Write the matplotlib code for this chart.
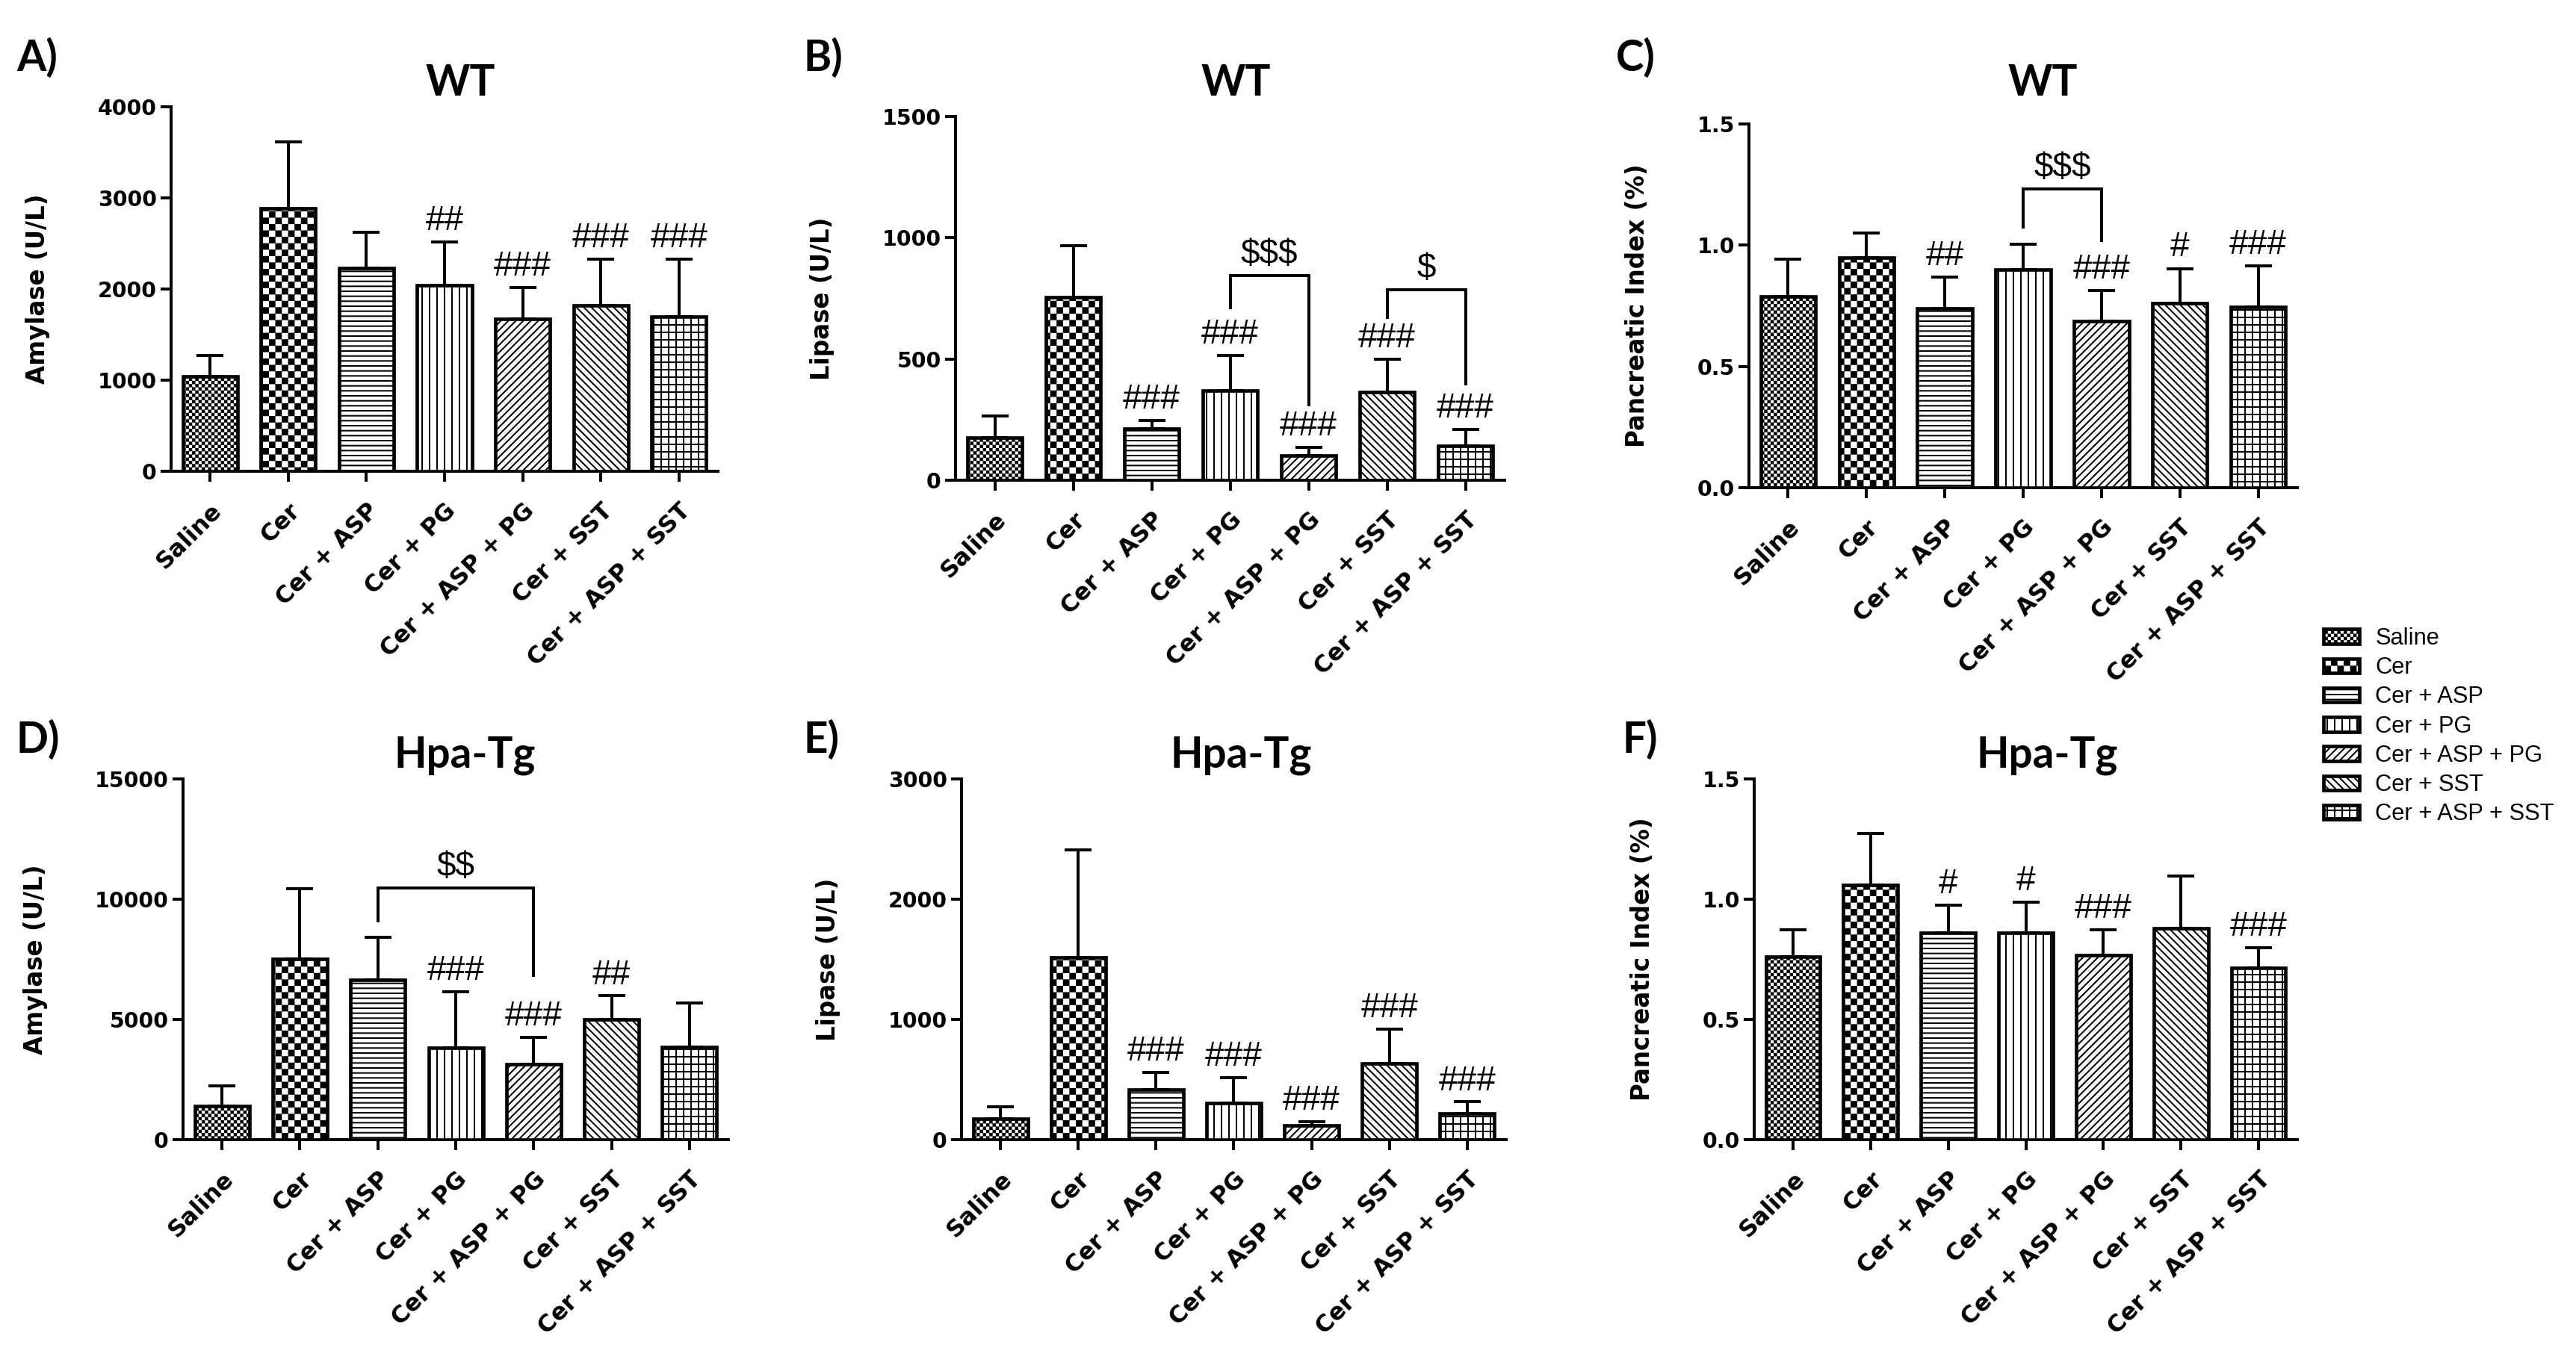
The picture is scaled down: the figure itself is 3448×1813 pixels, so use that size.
import warnings
warnings.filterwarnings('ignore')
import numpy as np
import matplotlib
matplotlib.use('Agg')
import matplotlib.pyplot as plt
from matplotlib import hatch as mhatch
from matplotlib.path import Path
from matplotlib.patches import Patch

# ---------------- data ----------------
groups = ['Saline', 'Cer', 'Cer + ASP', 'Cer + PG', 'Cer + ASP + PG', 'Cer + SST', 'Cer + ASP + SST']

amylase_wt_mean = [1045, 2885, 2230, 2040, 1675, 1820, 1695]
amylase_wt_err = [225, 730, 395, 475, 340, 510, 635]
lipase_wt_mean = [177, 754, 213, 369, 101, 363, 142]
lipase_wt_err = [89, 212, 32, 145, 34, 137, 67]
pi_wt_mean = [0.789, 0.949, 0.738, 0.899, 0.688, 0.761, 0.745]
pi_wt_err = [0.152, 0.102, 0.131, 0.105, 0.124, 0.143, 0.170]

amylase_tg_mean = [1395, 7520, 6650, 3820, 3135, 4985, 3860]
amylase_tg_err = [835, 2930, 1775, 2320, 1125, 995, 1810]
lipase_tg_mean = [173, 1516, 415, 307, 116, 632, 217]
lipase_tg_err = [98, 896, 145, 209, 36, 289, 97]
pi_tg_mean = [0.762, 1.060, 0.861, 0.861, 0.767, 0.879, 0.715]
pi_tg_err = [0.110, 0.213, 0.114, 0.126, 0.105, 0.217, 0.083]

amylase_wt_sig = ['', '', '', '##', '###', '###', '###']
lipase_wt_sig = ['', '', '###', '###', '###', '###', '###']
pi_wt_sig = ['', '', '##', '', '###', '#', '###']
amylase_tg_sig = ['', '', '', '###', '###', '##', '']
lipase_tg_sig = ['', '', '###', '###', '###', '###', '###']
pi_tg_sig = ['', '', '#', '#', '###', '', '###']

# brackets: (group i, group j, bracket top, left leg end, right leg end, label)
amylase_wt_brackets = []
lipase_wt_brackets = [(3, 4, 845, 711, 310, '$$$'), (5, 6, 785, 672, 398, '$')]
pi_wt_brackets = [(3, 4, 1.231, 1.076, 1.019, '$$$')]
amylase_tg_brackets = [(2, 4, 10480, 9090, 6830, '$$')]
lipase_tg_brackets = []
pi_tg_brackets = []

y_ticks_A = [0, 1000, 2000, 3000, 4000]
y_ticks_B = [0, 500, 1000, 1500]
y_ticks_C = [0.0, 0.5, 1.0, 1.5]
y_ticks_D = [0, 5000, 10000, 15000]
y_ticks_E = [0, 1000, 2000, 3000]
y_ticks_F = [0.0, 0.5, 1.0, 1.5]

# ---------------- custom checkerboard hatch ----------------
class CheckerHatch(mhatch.HatchPatternBase):
    def __init__(self, hatch, density):
        n = hatch.count('c') * 7
        if n % 2:
            n += 1
        self.n = n
        self.num_vertices = (n * n // 2) * 5 if n else 0

    def set_vertices_and_codes(self, vertices, codes):
        n = self.n
        s = 1.0 / n
        inset = 0.0075
        k = 0
        for i in range(n):
            for j in range(n):
                if (i + j) % 2 == 0:
                    x0, y0 = i * s + inset, j * s + inset
                    x1, y1 = (i + 1) * s - inset, (j + 1) * s - inset
                    vertices[k:k + 5] = [(x0, y0), (x1, y0), (x1, y1), (x0, y1), (x0, y0)]
                    codes[k:k + 5] = [Path.MOVETO, Path.LINETO, Path.LINETO,
                                      Path.LINETO, Path.CLOSEPOLY]
                    k += 5

mhatch._hatch_types.append(CheckerHatch)

hatches = ['cccc', 'cc', '---', '||', '////', '\\\\\\\\', '++']

plt.rcParams['hatch.linewidth'] = 1.2
plt.rcParams['text.parse_math'] = False
DPI = 120
W, H = 3448, 1813
fig = plt.figure(figsize=(W / DPI, H / DPI), dpi=DPI, facecolor='white')

TICKFONT = 'DejaVu Sans'
EDGE_LW = 2.8
AX_LW = 2.4

def px2fx(x):
    return x / W

def px2fy(y):
    return 1 - y / H

def panel(rect_px, means, errs, sigs, brackets, yticks, ylabel, fmt):
    left, right, top, bottom = rect_px
    ax = fig.add_axes([px2fx(left), px2fy(bottom), (right - left) / W, (bottom - top) / H])
    x = np.arange(len(groups))
    ymax = yticks[-1]
    ax.errorbar(x, means, yerr=[np.zeros(len(means)), errs], fmt='none', ecolor='black',
                elinewidth=AX_LW, capsize=11, capthick=AX_LW, zorder=2, clip_on=False)
    for xi, m, h in zip(x, means, hatches):
        ax.bar(xi, m, width=0.7, facecolor='white', edgecolor='black', linewidth=EDGE_LW,
               hatch=h, zorder=3)
    off = 0.033 * ymax
    for xi, m, e, s in zip(x, means, errs, sigs):
        if s:
            ax.text(xi, m + e + off, s, ha='center', va='baseline', fontsize=27.5,
                    family='Liberation Sans', zorder=5, parse_math=False)
    for (i, j, yt, yl, yr, lab) in brackets:
        ax.plot([i, i, j, j], [yl, yt, yt, yr], color='black', lw=AX_LW,
                solid_joinstyle='miter', clip_on=False, zorder=4)
        ax.text((i + j) / 2, yt + off, lab, ha='center', va='baseline', fontsize=27.5,
                family='Liberation Sans', zorder=5, parse_math=False)
    ax.set_xlim(-0.5, len(groups) - 0.5)
    ax.set_ylim(0, ymax)
    ax.set_yticks(yticks)
    ax.set_yticklabels([fmt.format(t) for t in yticks], fontsize=17, fontweight='bold',
                       family=TICKFONT)
    ax.set_xticks(x)
    ax.set_xticklabels(groups, rotation=45, ha='right', rotation_mode='anchor',
                       fontsize=19, fontweight='bold', family=TICKFONT)
    for sp in ['top', 'right']:
        ax.spines[sp].set_visible(False)
    for sp in ['left', 'bottom']:
        ax.spines[sp].set_linewidth(AX_LW)
    ax.tick_params(axis='both', direction='out', length=8.5, width=AX_LW, color='black')
    ax.tick_params(axis='y', pad=3)
    ax.tick_params(axis='x', pad=14)
    ax.set_ylabel(ylabel, fontsize=19.5, fontweight='bold', family=TICKFONT, labelpad=38)
    ax.patch.set_alpha(0)
    return ax

axA = panel((229, 961, 143, 631), amylase_wt_mean, amylase_wt_err, amylase_wt_sig,
            amylase_wt_brackets, y_ticks_A, 'Amylase (U/L)', '{:.0f}')
axB = panel((1279, 2014, 156, 643), lipase_wt_mean, lipase_wt_err, lipase_wt_sig,
            lipase_wt_brackets, y_ticks_B, 'Lipase (U/L)', '{:.0f}')
axC = panel((2341, 3075, 166, 653), pi_wt_mean, pi_wt_err, pi_wt_sig,
            pi_wt_brackets, y_ticks_C, 'Pancreatic Index (%)', '{:.1f}')
axD = panel((245, 975, 1043, 1526), amylase_tg_mean, amylase_tg_err, amylase_tg_sig,
            amylase_tg_brackets, y_ticks_D, 'Amylase (U/L)', '{:.0f}')
axE = panel((1287, 2016, 1043, 1526), lipase_tg_mean, lipase_tg_err, lipase_tg_sig,
            lipase_tg_brackets, y_ticks_E, 'Lipase (U/L)', '{:.0f}')
axF = panel((2348, 3075, 1043, 1526), pi_tg_mean, pi_tg_err, pi_tg_sig,
            pi_tg_brackets, y_ticks_F, 'Pancreatic Index (%)', '{:.1f}')

# titles
TFONT = 'Lato'
for xc, yb, t in [(616, 128, 'WT'), (1654, 128, 'WT'), (2734, 128, 'WT'),
                  (622, 1027, 'Hpa-Tg'), (1661, 1027, 'Hpa-Tg'), (2740, 1027, 'Hpa-Tg')]:
    fig.text(px2fx(xc), px2fy(yb), t, ha='center', va='baseline', fontsize=34,
             fontweight='bold', family=TFONT)

# panel letters
for xl, yb, t in [(22, 95, 'A)'), (1075, 95, 'B)'), (2163, 95, 'C)'),
                  (22, 1008, 'D)'), (1075, 1008, 'E)'), (2172, 1008, 'F)')]:
    fig.text(px2fx(xl), px2fy(yb), t, ha='left', va='baseline', fontsize=34,
             fontweight='bold', family=TFONT)

# legend
handles = [Patch(facecolor='white', edgecolor='black', hatch=h, linewidth=EDGE_LW)
           for h in hatches]
fig.legend(handles, groups, loc='upper left', bbox_to_anchor=(px2fx(3110), px2fy(840)),
           frameon=False, prop={'family': 'Liberation Sans', 'size': 18.5},
           handlelength=1.55, handleheight=0.6, handletextpad=0.7, labelspacing=0.3,
           borderpad=0, borderaxespad=0)

fig.savefig('out.png', dpi=DPI, facecolor='white')
